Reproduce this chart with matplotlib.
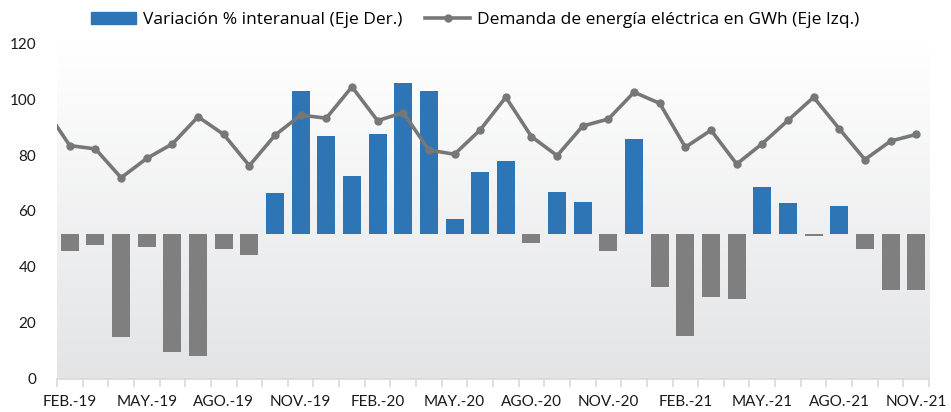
import numpy as np
import matplotlib.pyplot as plt
from matplotlib.lines import Line2D
from matplotlib.patches import Patch

# months Feb-19 .. Nov-21
meses = ["FEB.-19", "MAR.-19", "ABR.-19", "MAY.-19", "JUN.-19", "JUL.-19", "AGO.-19", "SEP.-19",
         "OCT.-19", "NOV.-19", "DIC.-19", "ENE.-20", "FEB.-20", "MAR.-20", "ABR.-20", "MAY.-20",
         "JUN.-20", "JUL.-20", "AGO.-20", "SEP.-20", "OCT.-20", "NOV.-20", "DIC.-20", "ENE.-21",
         "FEB.-21", "MAR.-21", "ABR.-21", "MAY.-21", "JUN.-21", "JUL.-21", "AGO.-21", "SEP.-21",
         "OCT.-21", "NOV.-21"]

# demanda GWh (left axis); first value is Jan-19, mostly outside the plot
demanda_ene19 = 97.0
demanda = [83.4, 82.2, 71.9, 78.8, 84.0, 93.7, 87.4, 76.2, 87.1, 94.3, 93.2, 104.4,
           92.3, 95.2, 81.8, 80.3, 89.0, 100.7, 86.6, 79.8, 90.4, 92.9, 102.5, 98.5,
           82.8, 88.9, 76.8, 84.1, 92.4, 100.7, 89.4, 78.4, 85.0, 87.4]

# variacion % interanual (right axis, hidden)
variacion = [-2.2, -1.5, -13.5, -1.7, -15.5, -16.0, -2.0, -2.75, 5.3, 18.8, 12.9, 7.6,
             13.1, 19.8, 18.8, 1.9, 8.1, 9.6, -1.2, 5.5, 4.2, -2.2, 12.4, -7.0,
             -13.4, -8.25, -8.5, 6.2, 4.1, -0.25, 3.7, -2.0, -7.4, -7.4]

x = np.arange(len(meses))
x_line = np.concatenate([[-1], x])
y_line = [demanda_ene19] + demanda

fig = plt.figure(figsize=(9.51, 4.12), dpi=100)
ax2 = fig.add_axes([0.0599, 0.0808, 0.9170, 0.8142])
ax = ax2.twinx()

# gradient background
grad = np.linspace(0, 1, 256).reshape(-1, 1)
top = np.array([1.0, 1.0, 1.0])
bot = np.array([227, 228, 230]) / 255.0
img = top + (bot - top) * grad[:, :, None] * np.ones((1, 1, 3))
ax2.imshow(img, extent=[0, 1, 0, 1], transform=ax2.transAxes, aspect="auto", zorder=0)

colores = ["#2e75b6" if v >= 0 else "#7f7f7f" for v in variacion]
ax2.bar(x, variacion, width=0.7, color=colores, zorder=2)
ax2.set_ylim(-19, 25)
ax2.set_xlim(-0.5, len(meses) - 0.5)

ax.plot(x_line, y_line, color="#777777", lw=2.6, marker="o", markersize=5, zorder=3)
ax.set_ylim(0, 120)
ax.set_zorder(ax2.get_zorder() + 1)
ax.patch.set_visible(False)

# y labels on the left from the line axis
ax.yaxis.tick_left()
ax.set_yticks([0, 20, 40, 60, 80, 100, 120])
ax.tick_params(axis="y", length=0, pad=15, labelsize=11, labelcolor="#1a1a1a")
for t in ax.get_yticklabels():
    t.set_family("Lato")
ax2.set_yticks([])

for a in (ax, ax2):
    for s in ["top", "right", "left"]:
        a.spines[s].set_visible(False)
ax.spines["bottom"].set_visible(False)
ax2.spines["bottom"].set_color("#d9d9d9")
ax2.spines["bottom"].set_linewidth(1.2)

ax2.set_xticks(x[::3])
ax2.set_xticklabels(meses[::3], family="Lato", fontsize=11, color="#1a1a1a")
ax2.set_xticks(np.arange(-0.5, len(meses), 1), minor=True)
ax2.tick_params(axis="x", which="major", length=0, pad=12)
ax2.tick_params(axis="x", which="minor", length=6, width=1.2, color="#d9d9d9")

handles = [Patch(color="#2e75b6"),
           Line2D([0], [0], color="#777777", lw=2.6, marker="o", markersize=5)]
labels = ["Variación % interanual (Eje Der.)", "Demanda de energía eléctrica en GWh (Eje Izq.)"]
fig.legend(handles, labels, loc="center", bbox_to_anchor=(0.5, 0.951), ncol=2, frameon=False,
           prop={"family": "Open Sans", "size": 12.5}, handlelength=2.6, columnspacing=1.3,
           handletextpad=0.4)

fig.savefig("out.png", dpi=100)
